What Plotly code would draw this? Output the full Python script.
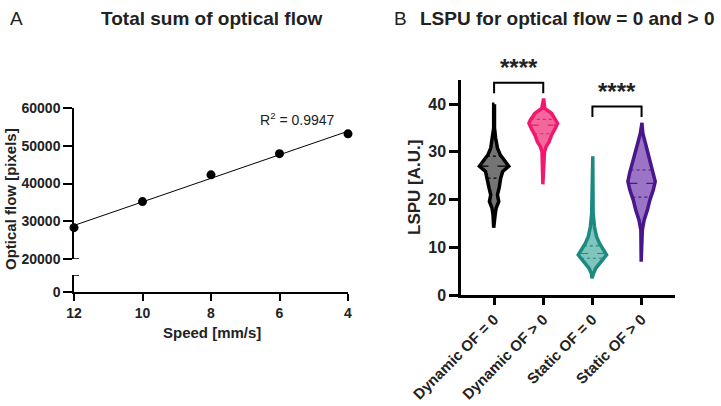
import numpy as np
import plotly.graph_objects as go

W, H = 721, 406
FONT = "Liberation Sans, Arial"

# ---------------- Panel A data ----------------
speed = [12, 10, 8, 6, 4]
optical_flow = [28300, 35200, 42300, 47900, 53150]
r2_text = "R<sup>2</sup> = 0.9947"
speed_ticks = [12, 10, 8, 6, 4]
flow_ticks_upper = [20000, 30000, 40000, 50000, 60000]

# ---------------- Panel B data ----------------
groups = ["Dynamic OF = 0", "Dynamic OF > 0", "Static OF = 0", "Static OF > 0"]
lspu_ticks = [0, 10, 20, 30, 40]
# violin profiles: LSPU level and relative density (1 = widest)
prof_levels = [
    [40.0, 35.0, 32.9, 30.8, 29.4, 28.3, 27.0, 25.9, 24.5, 22.4, 21.0, 19.6, 18.2, 16.8, 14.1],
    [41.2, 39.1, 38.1, 36.7, 36.0, 35.0, 33.5, 32.1, 31.1, 30.0, 23.2],
    [29.1, 24.1, 17.1, 14.3, 12.2, 10.8, 9.8, 8.4, 7.0, 5.6, 4.5, 3.5],
    [36.1, 33.9, 31.8, 29.7, 27.6, 25.5, 23.8, 22.0, 19.9, 17.8, 15.7, 13.6, 7.0],
]
prof_density = [
    [0.12, 0.13, 0.20, 0.31, 0.48, 0.72, 1.00, 0.63, 0.51, 0.41, 0.31, 0.39, 0.23, 0.17, 0.12],
    [0.09, 0.20, 0.61, 0.89, 0.98, 0.85, 0.61, 0.46, 0.28, 0.18, 0.12],
    [0.09, 0.12, 0.15, 0.23, 0.36, 0.54, 0.72, 0.97, 0.64, 0.31, 0.17, 0.09],
    [0.09, 0.18, 0.34, 0.51, 0.66, 0.84, 0.94, 0.82, 0.61, 0.46, 0.26, 0.15, 0.12],
]
medians = [27.0, 35.6, 8.7, 23.4]
q1 = [24.5, 33.8, 7.7, 20.5]
q3 = [29.1, 36.8, 10.3, 26.2]
line_colors = ["#000000", "#F2186C", "#1D8A82", "#4A168C"]
fill_colors = ["#747474", "#F4679C", "#7FC4BD", "#9B74C6"]
sig_pairs = [(0, 1), (2, 3)]
sig_labels = ["****", "****"]
sig_bracket_y = [44.5, 39.5]
sig_leg_y = [42.3, 37.3]

fig = go.Figure()

# ---- Panel A ----
coef = np.polyfit(speed, optical_flow, 1)
xs = np.array([max(speed), min(speed)])
fig.add_trace(go.Scatter(x=xs, y=np.polyval(coef, xs), mode="lines",
                         line=dict(color="black", width=1), xaxis="x", yaxis="y2",
                         hoverinfo="skip"))
fig.add_trace(go.Scatter(x=speed, y=optical_flow, mode="markers",
                         marker=dict(color="black", size=9), xaxis="x", yaxis="y2",
                         cliponaxis=False))

# ---- Panel B violins ----
MAXW = 0.333
for i, g in enumerate(groups):
    lv = np.array(prof_levels[i])
    hw = np.maximum(np.array(prof_density[i]) * MAXW - 0.035, 0.008)
    xs_poly = np.concatenate([i + hw, (i - hw)[::-1], [i + hw[0]]])
    ys_poly = np.concatenate([lv, lv[::-1], [lv[0]]])
    fig.add_trace(go.Scatter(x=xs_poly, y=ys_poly, mode="lines", fill="toself",
                             fillcolor=fill_colors[i],
                             line=dict(color=line_colors[i], width=3.5),
                             xaxis="x3", yaxis="y3", hoverinfo="skip"))
    order = np.argsort(lv)
    for val, dash in [(medians[i], "dash"), (q1[i], "dot"), (q3[i], "dot")]:
        w = np.interp(val, lv[order], hw[order])
        fig.add_trace(go.Scatter(x=[i - w, i + w], y=[val, val], mode="lines",
                                 line=dict(color=line_colors[i], width=1.2, dash=dash),
                                 xaxis="x3", yaxis="y3", hoverinfo="skip"))

for (a, b), yb, yl in zip(sig_pairs, sig_bracket_y, sig_leg_y):
    fig.add_trace(go.Scatter(x=[a, a, b, b], y=[yl, yb, yb, yl], mode="lines",
                             line=dict(color="black", width=2), xaxis="x3", yaxis="y3",
                             cliponaxis=False, hoverinfo="skip"))

# axis-break caps for panel A
shapes = [
    dict(type="line", xref="x", yref="y2", xsizemode="pixel", xanchor=12,
         x0=-5, x1=5, y0=20000, y1=20000, line=dict(color="black", width=1.5)),
    dict(type="line", xref="x", yref="y", xsizemode="pixel", xanchor=12,
         x0=-5, x1=5, y0=4500, y1=4500, line=dict(color="black", width=1.5)),
]

def px_x(p):
    return p / W

def px_y(p):
    return 1 - p / H

def bold(vals):
    return ["<b>%s</b>" % v for v in vals]

axA = dict(showline=True, linecolor="black", linewidth=1.5, ticks="outside",
           tickcolor="black", tickwidth=1.5, showgrid=False, zeroline=False,
           automargin=False, tickfont=dict(family=FONT, size=14, color="#222"))
axB = dict(showline=True, linecolor="black", linewidth=2.5, ticks="outside",
           tickcolor="black", tickwidth=2.5, showgrid=False, zeroline=False,
           automargin=False, tickfont=dict(family=FONT, size=16, color="#222"))

fig.update_layout(
    template="none",
    width=W, height=H, margin=dict(l=0, r=0, t=0, b=0, autoexpand=False),
    paper_bgcolor="white", plot_bgcolor="white", showlegend=False,
    shapes=shapes,
    xaxis=dict(axA, domain=[px_x(74), px_x(348)], range=[12, 4], tickvals=speed_ticks,
               ticktext=bold(speed_ticks), anchor="y", ticklen=7),
    yaxis=dict(axA, domain=[px_y(292), px_y(275)], range=[0, 4500], tickvals=[0],
               ticktext=bold([0]), anchor="x", ticklen=9),
    yaxis2=dict(axA, domain=[px_y(259), px_y(108)], range=[20000, 60000],
                tickvals=flow_ticks_upper, ticktext=bold(flow_ticks_upper),
                anchor="x", ticklen=9),
    xaxis3=dict(axB, domain=[px_x(461), px_x(675)], range=[-0.673, 3.68],
                tickvals=list(range(len(groups))), ticktext=bold(groups), tickangle=-45,
                anchor="y3", ticklen=7, tickfont=dict(family=FONT, size=15, color="#222")),
    yaxis3=dict(axB, domain=[px_y(295), px_y(80)], range=[0, 45.07],
                tickvals=lspu_ticks, ticktext=bold(lspu_ticks), anchor="x3", ticklen=9),
)

ann = []
def add_text(text, x, y, size, is_bold=True, angle=0, xanchor="center", color="#222"):
    ann.append(dict(text=("<b>%s</b>" % text) if is_bold else text, x=x, y=y,
                    xref="paper", yref="paper", showarrow=False, textangle=angle,
                    xanchor=xanchor, yanchor="middle",
                    font=dict(family=FONT, size=size, color=color)))

add_text("A", px_x(16), px_y(18), 19, is_bold=False)
add_text("Total sum of optical flow", px_x(212), px_y(18), 19)
add_text("Optical flow [pixels]", px_x(10), px_y(199), 15, angle=-90)
add_text("Speed [mm/s]", px_x(212), px_y(332), 15)
add_text(r2_text, px_x(297), px_y(119), 14, is_bold=False)
add_text("B", px_x(400), px_y(18), 19, is_bold=False)
add_text("LSPU for optical flow = 0 and > 0", px_x(418), px_y(18), 19, xanchor="left")
add_text("LSPU [A.U.]", px_x(414), px_y(188), 17, angle=-90)

for (a, b), yb, lab in zip(sig_pairs, sig_bracket_y, sig_labels):
    ann.append(dict(text="<b>%s</b>" % lab, x=(a + b) / 2, y=yb, xref="x3", yref="y3",
                    showarrow=False, yanchor="bottom", yshift=0,
                    font=dict(family=FONT, size=24, color="#222")))
fig.update_layout(annotations=ann)

fig.write_html("out.html")
